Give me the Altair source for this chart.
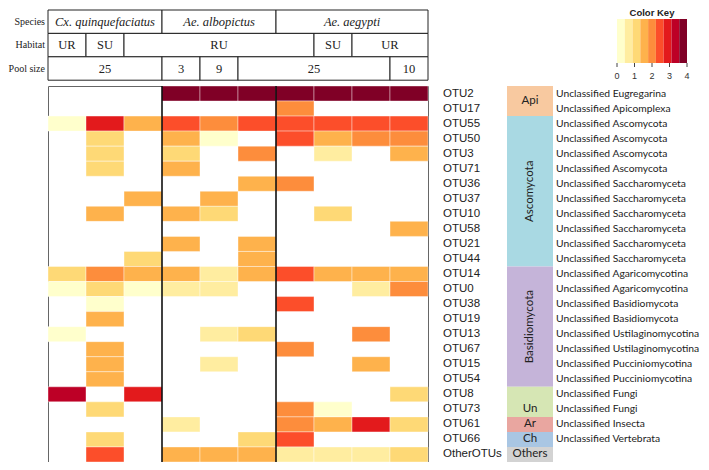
import altair as alt
import pandas as pd

# ---------------- data ----------------
otus = ["OTU2", "OTU17", "OTU55", "OTU50", "OTU3", "OTU71", "OTU36", "OTU37",
        "OTU10", "OTU58", "OTU21", "OTU44", "OTU14", "OTU0", "OTU38", "OTU19",
        "OTU13", "OTU67", "OTU15", "OTU54", "OTU8", "OTU73", "OTU61", "OTU66",
        "OtherOTUs"]

taxonomy = ["Unclassified Eugregarina", "Unclassified Apicomplexa",
            "Unclassified Ascomycota", "Unclassified Ascomycota",
            "Unclassified Ascomycota", "Unclassified Ascomycota",
            "Unclassified Saccharomyceta", "Unclassified Saccharomyceta",
            "Unclassified Saccharomyceta", "Unclassified Saccharomyceta",
            "Unclassified Saccharomyceta", "Unclassified Saccharomyceta",
            "Unclassified Agaricomycotina", "Unclassified Agaricomycotina",
            "Unclassified Basidiomycota", "Unclassified Basidiomycota",
            "Unclassified Ustilaginomycotina", "Unclassified Ustilaginomycotina",
            "Unclassified Pucciniomycotina", "Unclassified Pucciniomycotina",
            "Unclassified Fungi", "Unclassified Fungi",
            "Unclassified Insecta", "Unclassified Vertebrata", ""]

# abundance (colour-key units 0-4), one list per OTU, 10 samples each; 0 = absent
abundance = [
    [0, 0, 0, 3.8, 3.8, 3.8, 3.8, 3.8, 3.8, 3.8],   # OTU2
    [0, 0, 0, 0, 0, 0, 2.0, 0, 0, 0],               # OTU17
    [0.2, 2.9, 1.6, 2.5, 2.0, 2.5, 2.5, 2.5, 2.5, 2.5],  # OTU55
    [0, 1.1, 0, 1.6, 0.2, 0, 2.5, 1.6, 2.0, 2.0],   # OTU50
    [0, 1.1, 0, 1.1, 0, 2.0, 0, 0.7, 0, 1.6],       # OTU3
    [0, 1.1, 0, 1.6, 0, 0, 0, 0, 0, 0],             # OTU71
    [0, 0, 0, 0, 0, 1.6, 2.0, 0, 0, 0],             # OTU36
    [0, 0, 1.6, 0, 1.6, 0, 0, 0, 0, 0],             # OTU37
    [0, 1.6, 0, 1.6, 1.1, 0, 0, 1.1, 0, 0],         # OTU10
    [0, 0, 0, 0, 0, 0, 0, 0, 0, 1.6],               # OTU58
    [0, 0, 0, 1.6, 0, 1.6, 0, 0, 0, 0],             # OTU21
    [0, 0, 1.1, 0, 0, 1.6, 0, 0, 0, 0],             # OTU44
    [1.1, 2.0, 1.6, 1.6, 0.7, 1.6, 2.5, 1.6, 1.6, 1.6],  # OTU14
    [0.2, 1.1, 0.2, 0.7, 0.7, 0, 0, 0, 0.7, 2.0],   # OTU0
    [0, 0.2, 0, 0, 0, 0, 2.5, 0, 0, 0],             # OTU38
    [0, 1.6, 0, 0, 0, 0, 0, 0, 0, 0],               # OTU19
    [0.2, 0, 0, 0, 0.7, 1.1, 0, 0, 2.0, 0],         # OTU13
    [0, 1.6, 0, 0, 0, 0, 2.0, 0, 0, 0],             # OTU67
    [0, 1.6, 0, 0, 0.7, 0, 0, 0, 1.6, 0],           # OTU15
    [0, 1.6, 0, 0, 0, 0, 0, 0, 0, 0],               # OTU54
    [3.4, 0, 2.9, 0, 0, 0, 0, 0, 0, 1.1],           # OTU8
    [0, 1.1, 0, 0, 0, 0, 2.0, 0.2, 0, 0],           # OTU73
    [0, 0, 0, 0.7, 0, 0, 2.0, 1.6, 2.9, 1.1],       # OTU61
    [0, 1.1, 0, 0, 0, 1.1, 2.5, 0, 0, 0],           # OTU66
    [0, 2.5, 0, 1.6, 1.6, 1.6, 0.7, 0.7, 0.7, 1.1], # OtherOTUs
]

species_labels = ["Cx. quinquefaciatus", "Ae. albopictus", "Ae. aegypti"]
species_start = [0, 3, 6]
species_end = [3, 6, 10]

habitat_labels = ["UR", "SU", "RU", "SU", "UR"]
habitat_start = [0, 1, 2, 7, 8]
habitat_end = [1, 2, 7, 8, 10]

pool_labels = ["25", "3", "9", "25", "10"]
pool_start = [0, 3, 4, 5, 9]
pool_end = [3, 4, 5, 9, 10]

species_separators = [3, 6]

groups = ["Api", "Ascomycota", "Basidiomycota", "Un", "Ar", "Ch", "Others"]
group_start = [0, 2, 12, 20, 22, 23, 24]
group_end = [2, 12, 20, 22, 23, 24, 25]
group_label_row = [1, 7, 16, 21.5, 22.5, 23.5, 24.5]
group_vertical = [False, True, True, False, False, False, False]

key_ticks = [0, 1, 2, 3, 4]

# ---------------- styles ----------------
palette = ["#ffffcc", "#ffeda0", "#fed976", "#feb24c", "#fd8d3c",
           "#fc4e2a", "#e31a1c", "#bd0026", "#800026"]
group_colors = ["#f8c9a0", "#a9d9e3", "#c5b4d9", "#d6e6b4", "#e9a6a0",
                "#a9c6e3", "#d3d3d3"]

W, H = 380, 376
SERIF = "Liberation Serif"
SANS = "Liberation Sans"
CAL = "Lato"

thresholds = [4 * k / 9 for k in range(1, 9)]
heat_color = alt.Scale(type="threshold", domain=thresholds, range=palette)
x_heat = alt.Scale(domain=[0, 10], range=[0, W], nice=False, zero=False)
y_heat = alt.Scale(domain=[0, 25], range=[0, H], nice=False, zero=False)
key_x = alt.Scale(domain=[0, 4], range=[569, 639], nice=False, zero=False)

# ---------------- tables ----------------
cells = pd.DataFrame([
    {"otu": otus[i], "row": i, "col": j, "value": v}
    for i, row in enumerate(abundance) for j, v in enumerate(row) if v > 0
])
otu_df = pd.DataFrame({"otu": otus, "taxon": taxonomy, "row": range(len(otus))})
grp_df = pd.DataFrame({"group": groups, "start": group_start, "end": group_end,
                       "pos": group_label_row, "vertical": group_vertical})
sep_df = pd.DataFrame({"c": species_separators})

layers = []

# heatmap cells
layers.append(
    alt.Chart(cells).transform_calculate(c2="datum.col + 1", r2="datum.row + 1")
    .mark_rect(stroke="white", strokeWidth=0.4)
    .encode(x=alt.X("col:Q", scale=x_heat, axis=None), x2="c2:Q",
            y=alt.Y("row:Q", scale=y_heat, axis=None), y2="r2:Q",
            color=alt.Color("value:Q", scale=heat_color, legend=None))
)
# species separators
layers.append(
    alt.Chart(sep_df).mark_rule(color="black", strokeWidth=1.5)
    .encode(x=alt.X("c:Q", scale=x_heat, axis=None), y=alt.value(0), y2=alt.value(H))
)

# header table
header_rows = [
    ("Species", species_labels, species_start, species_end, "italic"),
    ("Habitat", habitat_labels, habitat_start, habitat_end, "normal"),
    ("Pool size", pool_labels, pool_start, pool_end, "normal"),
]
row_h = 23.4
top0 = -76
for k, (name, labs, st, en, style) in enumerate(header_rows):
    top = top0 + k * row_h
    bot = top + row_h
    df = pd.DataFrame({"label": labs, "start": st, "end": en})
    layers.append(
        alt.Chart(df).mark_rect(fill="white", stroke="#222", strokeWidth=1)
        .encode(x=alt.X("start:Q", scale=x_heat, axis=None), x2="end:Q",
                y=alt.value(top), y2=alt.value(bot))
    )
    layers.append(
        alt.Chart(df).transform_calculate(mid="(datum.start + datum.end) / 2")
        .mark_text(font=SERIF, fontSize=12.5, fontStyle=style, color="#222",
                   baseline="middle")
        .encode(x=alt.X("mid:Q", scale=x_heat, axis=None),
                y=alt.value((top + bot) / 2), text="label:N")
    )
    layers.append(
        alt.Chart(pd.DataFrame({"name": [name]}))
        .mark_text(font=SERIF, fontSize=10, color="#222", align="right",
                   baseline="middle")
        .encode(x=alt.value(-3), y=alt.value((top + bot) / 2), text="name:N")
    )

# OTU labels
layers.append(
    alt.Chart(otu_df).transform_calculate(rm="datum.row + 0.5")
    .mark_text(font=SANS, fontSize=11.5, color="#222", align="left", baseline="middle")
    .encode(x=alt.value(395), y=alt.Y("rm:Q", scale=y_heat, axis=None), text="otu:N")
)
# taxonomy labels
layers.append(
    alt.Chart(otu_df).transform_calculate(rm="datum.row + 0.5")
    .mark_text(font=CAL, fontSize=10.3, color="#222", align="left", baseline="middle")
    .encode(x=alt.value(508), y=alt.Y("rm:Q", scale=y_heat, axis=None), text="taxon:N")
)
# group bands
layers.append(
    alt.Chart(grp_df).mark_rect()
    .encode(x=alt.value(459), x2=alt.value(505),
            y=alt.Y("start:Q", scale=y_heat, axis=None), y2="end:Q",
            fill=alt.Fill("group:N", scale=alt.Scale(domain=groups, range=group_colors),
                          legend=None))
)
layers.append(
    alt.Chart(grp_df).transform_filter("!datum.vertical")
    .mark_text(font=CAL, fontSize=11.5, color="#222", baseline="middle")
    .encode(x=alt.value(482), y=alt.Y("pos:Q", scale=y_heat, axis=None), text="group:N")
)
layers.append(
    alt.Chart(grp_df).transform_filter("datum.vertical")
    .mark_text(font=CAL, fontSize=11.5, color="#222", baseline="middle", angle=270)
    .encode(x=alt.value(482), y=alt.Y("pos:Q", scale=y_heat, axis=None), text="group:N")
)

# colour key
key_df = pd.DataFrame({"i": range(9)})
layers.append(
    alt.Chart(key_df)
    .transform_calculate(start="datum.i * 4 / 9", end="(datum.i + 1) * 4 / 9",
                         mid="(datum.i + 0.5) * 4 / 9")
    .mark_rect()
    .encode(x=alt.X("start:Q", scale=key_x, axis=None), x2="end:Q",
            y=alt.value(-67), y2=alt.value(-23),
            color=alt.Color("mid:Q", scale=heat_color, legend=None))
)
tick_df = pd.DataFrame({"t": key_ticks})
layers.append(
    alt.Chart(tick_df).mark_rule(color="#444", strokeWidth=1)
    .encode(x=alt.X("t:Q", scale=key_x, axis=None), y=alt.value(-23), y2=alt.value(-19))
)
layers.append(
    alt.Chart(tick_df).mark_text(font=SANS, fontSize=9, color="#333", baseline="middle")
    .encode(x=alt.X("t:Q", scale=key_x, axis=None), y=alt.value(-10), text="t:Q")
)
layers.append(
    alt.Chart(pd.DataFrame({"title": ["Color Key"], "t": [2]}))
    .mark_text(font=SANS, fontSize=9.5, fontWeight="bold", color="#222", baseline="top")
    .encode(x=alt.X("t:Q", scale=key_x, axis=None), y=alt.value(-78), text="title:N")
)

chart = (
    alt.layer(*layers)
    .resolve_scale(x="independent")
    .properties(width=W, height=H,
                padding={"left": 40, "top": 78, "right": 273, "bottom": 0},
                autosize=alt.AutoSizeParams(type="none"))
    .configure_view(stroke="#666", strokeWidth=1)
)

chart.save("out.html", embed_options={"renderer": "svg", "actions": False})
